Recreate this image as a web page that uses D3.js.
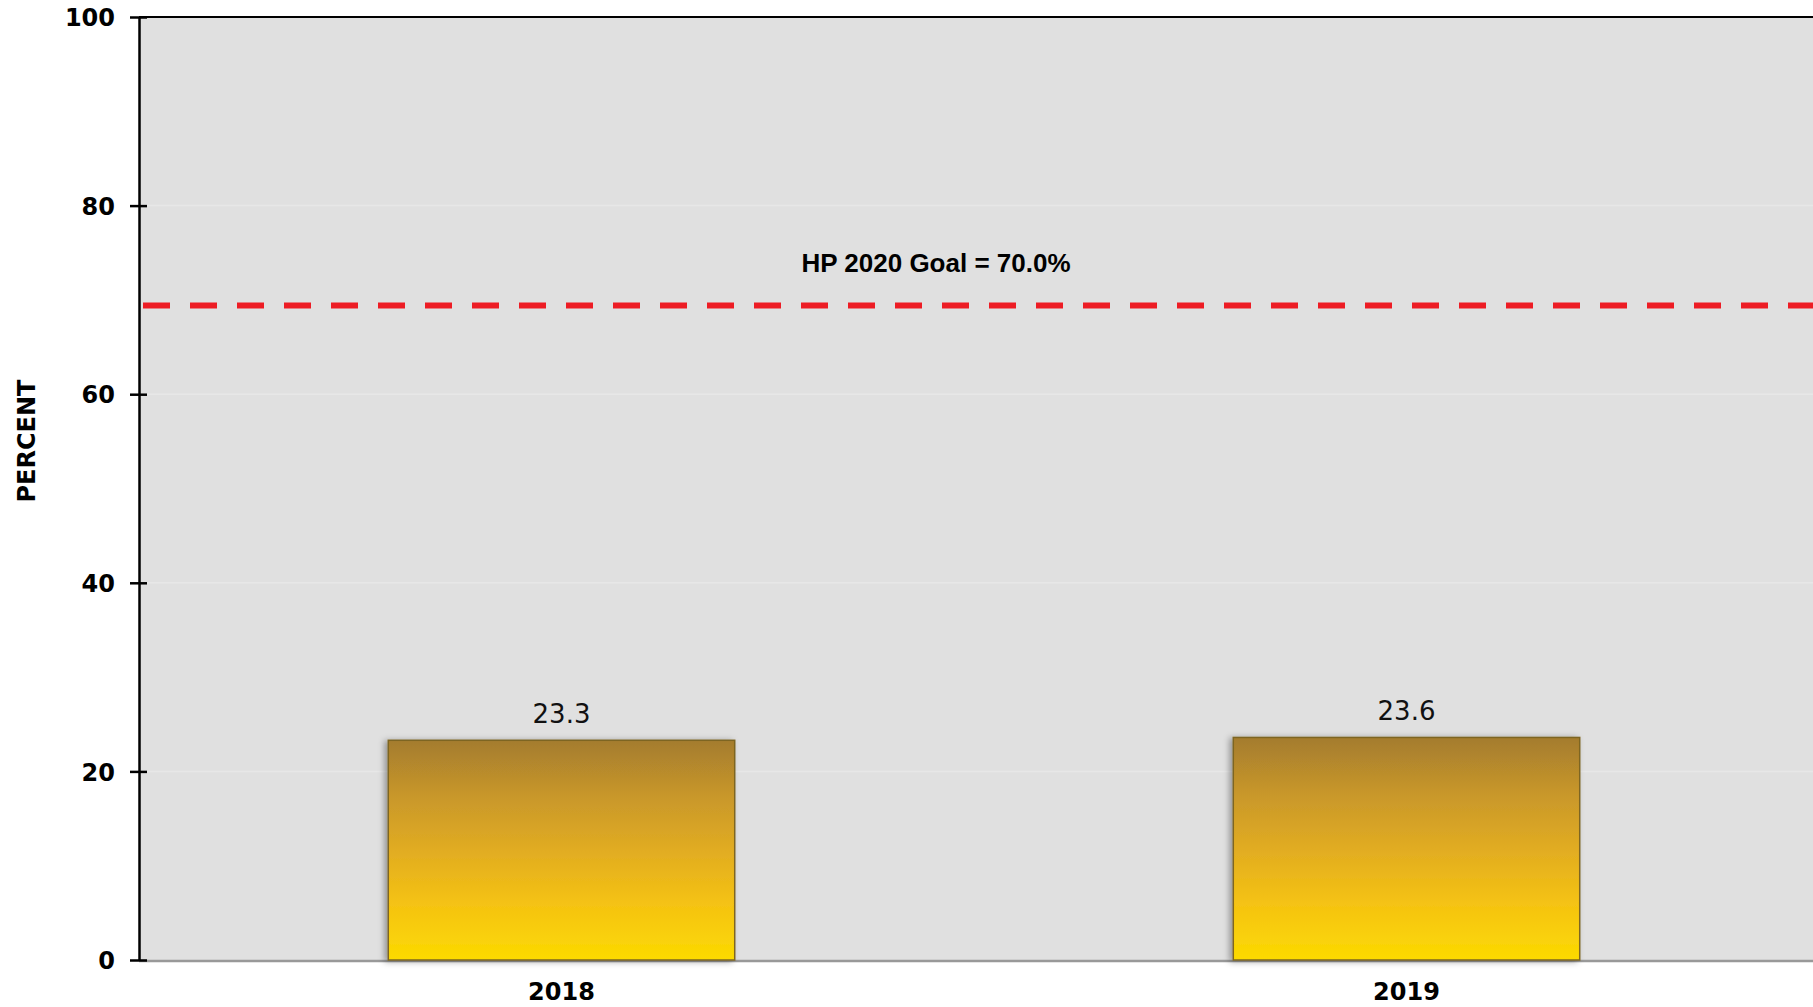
<!DOCTYPE html>
<html>
<head>
<meta charset="utf-8">
<script src="https://cdn.jsdelivr.net/npm/d3@7"></script>
<style>
  body { margin: 0; background: #fff; }
  svg { display: block; }
  .tick-label { font-family: 'DejaVu Sans', Verdana, sans-serif; font-weight: bold; font-size: 24px; fill: #000; }
  .value-label { font-family: 'DejaVu Sans', Verdana, sans-serif; font-size: 26px; fill: #111; }
  .goal-label { font-family: 'Liberation Sans', Arial, sans-serif; font-weight: bold; font-size: 26px; fill: #000; }
</style>
</head>
<body>
<div id="chart"></div>
<script>

// Data
var years = ['2018', '2019'];
var values = [23.3, 23.6];
var yTicks = [0, 20, 40, 60, 80, 100];
var goalValue = 69.4;              // where the dashed line sits
var goalText = 'HP 2020 Goal = 70.0%';

var width = 1813,
    height = 1007,
    plotLeft = 139,
    plotTop = 17,
    plotBottom = 960;

var svg = d3.select('#chart')
  .append('svg')
    .attr('width', width)
    .attr('height', height);

var defs = svg.append('defs');

// Gold gradient for the bars
var grad = defs.append('linearGradient')
  .attr('id', 'barGrad')
  .attr('x1', 0).attr('y1', 0)
  .attr('x2', 0).attr('y2', 1);
[['0%', '#a47c2e'], ['25%', '#c8972b'], ['50%', '#e1ac22'], ['75%', '#f5c312'], ['100%', '#fcda02']]
  .forEach(function(s){
    grad.append('stop').attr('offset', s[0]).attr('stop-color', s[1]);
  });

var shadow = defs.append('filter')
  .attr('id', 'shadow')
  .attr('x', '-10%').attr('y', '-10%')
  .attr('width', '120%').attr('height', '120%');
shadow.append('feDropShadow')
  .attr('dx', -3).attr('dy', 1)
  .attr('stdDeviation', 3)
  .attr('flood-color', '#000')
  .attr('flood-opacity', 0.35);

// Scales (plot runs past the right edge of the picture)
var x = d3.scaleBand()
  .domain(years)
  .range([plotLeft, 1829])
  .paddingInner(0.59)
  .paddingOuter(0.295);

var y = d3.scaleLinear()
  .domain([0, 100])
  .range([plotBottom, plotTop]);

// Plot background
svg.append('rect')
  .attr('x', plotLeft)
  .attr('y', plotTop)
  .attr('width', width - plotLeft)
  .attr('height', plotBottom - plotTop)
  .attr('fill', '#e0e0e0');

// Faint grid lines
svg.selectAll('.grid')
  .data(yTicks.filter(function(d){ return d > 0 && d < 100; }))
  .enter()
    .append('line')
      .attr('class', 'grid')
      .attr('x1', plotLeft)
      .attr('x2', width)
      .attr('y1', function(d){ return y(d); })
      .attr('y2', function(d){ return y(d); })
      .attr('stroke', '#e7e7e7')
      .attr('stroke-width', 1.5);

// Top frame line
svg.append('line')
  .attr('x1', plotLeft).attr('x2', width)
  .attr('y1', plotTop).attr('y2', plotTop)
  .attr('stroke', '#000')
  .attr('stroke-width', 2);

// Bottom axis line
svg.append('line')
  .attr('x1', plotLeft).attr('x2', width)
  .attr('y1', plotBottom + 1).attr('y2', plotBottom + 1)
  .attr('stroke', '#999')
  .attr('stroke-width', 2.5);

// Goal line
svg.append('line')
  .attr('x1', 143).attr('x2', width)
  .attr('y1', y(goalValue)).attr('y2', y(goalValue))
  .attr('stroke', '#ed1c24')
  .attr('stroke-width', 6)
  .attr('stroke-dasharray', '27 20');

svg.append('text')
  .attr('class', 'goal-label')
  .attr('x', 936)
  .attr('y', 272)
  .attr('text-anchor', 'middle')
  .text(goalText);

// Bars
svg.selectAll('.bar')
  .data(values)
  .enter()
    .append('rect')
      .attr('class', 'bar')
      .attr('x', function(d, i){ return x(years[i]); })
      .attr('y', function(d){ return y(d); })
      .attr('width', x.bandwidth())
      .attr('height', function(d){ return plotBottom - y(d); })
      .attr('fill', 'url(#barGrad)')
      .attr('stroke', '#7d6521')
      .attr('stroke-width', 1.5)
      .attr('filter', 'url(#shadow)');

// Value labels
svg.selectAll('.value-label')
  .data(values)
  .enter()
    .append('text')
      .attr('class', 'value-label')
      .attr('x', function(d, i){ return x(years[i]) + x.bandwidth() / 2; })
      .attr('y', function(d){ return y(d) - 17; })
      .attr('text-anchor', 'middle')
      .text(function(d){ return d.toFixed(1); });

// Year labels
svg.selectAll('.year-label')
  .data(years)
  .enter()
    .append('text')
      .attr('class', 'tick-label')
      .attr('x', function(d){ return x(d) + x.bandwidth() / 2; })
      .attr('y', 1000)
      .attr('text-anchor', 'middle')
      .text(function(d){ return d; });

// Y axis
var yAxis = svg.append('g')
  .attr('transform', 'translate(' + plotLeft + ',0)')
  .call(d3.axisLeft(y).tickValues(yTicks).tickSize(9).tickSizeOuter(0).tickPadding(15));

yAxis.select('.domain')
  .attr('stroke', '#000')
  .attr('stroke-width', 2.5);
yAxis.selectAll('.tick line')
  .attr('x1', 8)
  .attr('stroke', '#000')
  .attr('stroke-width', 2.5);
yAxis.selectAll('.tick text')
  .attr('class', 'tick-label')
  .attr('font-family', null)
  .attr('font-size', null)
  .attr('dy', '0.36em');

// Axis title
svg.append('text')
  .attr('class', 'tick-label')
  .attr('transform', 'translate(35,441) rotate(-90)')
  .attr('text-anchor', 'middle')
  .text('PERCENT');

</script>
</body>
</html>
